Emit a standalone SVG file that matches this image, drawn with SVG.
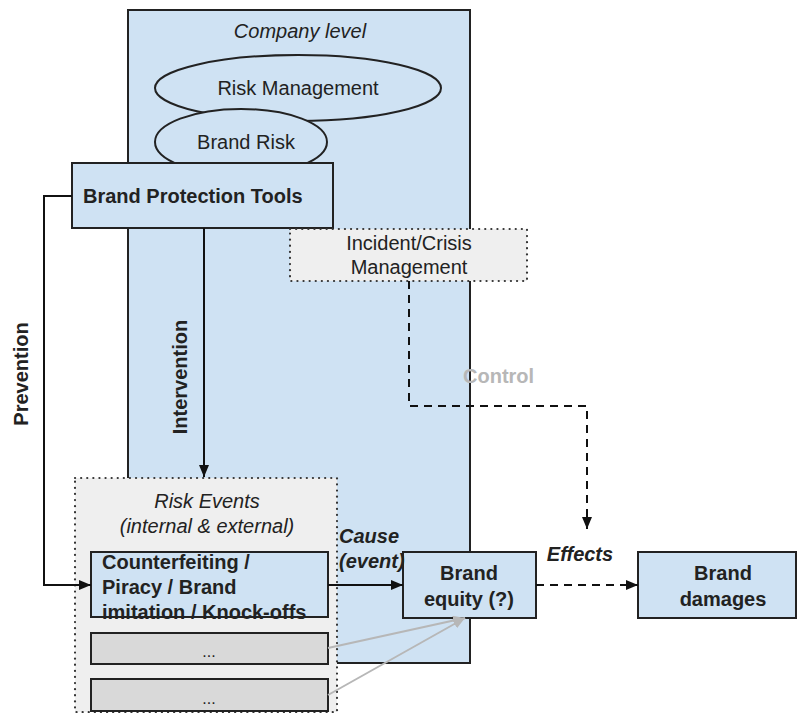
<svg xmlns="http://www.w3.org/2000/svg" width="798" height="713" viewBox="0 0 798 713">
<defs>
<style>
text{font-family:"Liberation Sans",Arial,sans-serif;font-size:20px;fill:#222}
.b{font-weight:bold}
.i{font-style:italic}
.c{text-anchor:middle}
.blue{fill:#cfe2f3;stroke:#222;stroke-width:2}
.dot{fill:#efefef;stroke:#333;stroke-width:2.2;stroke-dasharray:0.1 6;stroke-linecap:round}
.grey{fill:#d9d9d9;stroke:#222;stroke-width:2}
.ln{fill:none;stroke:#111;stroke-width:2}
.dash{fill:none;stroke:#111;stroke-width:2;stroke-dasharray:8 6}
.gl{fill:none;stroke:#b7b7b7;stroke-width:2}
</style>
<marker id="ah" viewBox="0 0 12 10" refX="12" refY="5" markerWidth="12" markerHeight="10" markerUnits="userSpaceOnUse" orient="auto"><path d="M0,0 L12,5 L0,10 Z" fill="#111"/></marker>
<marker id="ahg" viewBox="0 0 12 10" refX="12" refY="5" markerWidth="12" markerHeight="10" markerUnits="userSpaceOnUse" orient="auto"><path d="M0,0 L12,5 L0,10 Z" fill="#b7b7b7"/></marker>
</defs>
<rect width="798" height="713" fill="#fff"/>
<g id="company">
<rect class="blue" x="128" y="10" width="342" height="653"/>
<text class="i c" x="300" y="38">Company level</text>
</g>
<g id="risk-management">
<ellipse class="blue" cx="298" cy="88" rx="143" ry="33"/>
<text class="c" x="298" y="95">Risk Management</text>
</g>
<g id="brand-risk">
<ellipse class="blue" cx="241" cy="142" rx="86" ry="33"/>
<text class="c" x="246" y="149">Brand Risk</text>
</g>
<g id="brand-protection-tools">
<rect class="blue" x="72" y="163" width="261" height="65"/>
<text class="b" x="83" y="203">Brand Protection Tools</text>
</g>
<g id="incident">
<rect class="dot" x="290" y="229" width="237" height="52"/>
<text class="c" x="409" y="250">Incident/Crisis</text>
<text class="c" x="409" y="274">Management</text>
</g>
<g id="risk-events">
<rect class="dot" x="75" y="478" width="262" height="234"/>
<text class="i c" x="207" y="508">Risk Events</text>
<text class="i c" x="207" y="533">(internal &amp; external)</text>
</g>
<g id="counterfeiting">
<rect class="blue" x="91" y="552" width="237" height="65"/>
<text class="b" x="102" y="569">Counterfeiting /</text>
<text class="b" x="102" y="594">Piracy / Brand</text>
<text class="b" x="102" y="619">imitation / Knock-offs</text>
</g>
<g id="event-2">
<rect class="grey" x="91" y="633" width="237" height="31"/>
<text class="c" x="209" y="657" style="font-size:16px">...</text>
</g>
<g id="event-3">
<rect class="grey" x="91" y="679" width="237" height="32"/>
<text class="c" x="209" y="704" style="font-size:16px">...</text>
</g>
<g id="brand-equity">
<rect class="blue" x="403" y="552" width="133" height="66"/>
<text class="b c" x="469" y="580">Brand</text>
<text class="b c" x="469" y="606">equity (?)</text>
</g>
<g id="brand-damages">
<rect class="blue" x="638" y="552" width="158" height="66"/>
<text class="b c" x="723" y="580">Brand</text>
<text class="b c" x="723" y="606">damages</text>
</g>
<g id="connectors">
<path class="ln" d="M72,196 H44 V585 H91" marker-end="url(#ah)"/>
<path class="ln" d="M204,228 V477" marker-end="url(#ah)"/>
<path class="dash" d="M409,281 V406 H587 V529" marker-end="url(#ah)"/>
<path class="ln" d="M328,585 H403" marker-end="url(#ah)"/>
<path class="dash" d="M536,585 H638" marker-end="url(#ah)"/>
<path class="gl" d="M328,648 L465,618" marker-end="url(#ahg)"/>
<path class="gl" d="M328,695 L465,618" marker-end="url(#ahg)"/>
<text class="b" transform="translate(28,374) rotate(-90)" text-anchor="middle">Prevention</text>
<text class="b" transform="translate(187,377) rotate(-90)" text-anchor="middle">Intervention</text>
<text class="b" x="463" y="383" style="fill:#b7b7b7">Control</text>
<text class="b i" x="339" y="543">Cause</text>
<text class="b i" x="339" y="568">(event)</text>
<text class="b i c" x="580" y="561">Effects</text>
</g>
</svg>
